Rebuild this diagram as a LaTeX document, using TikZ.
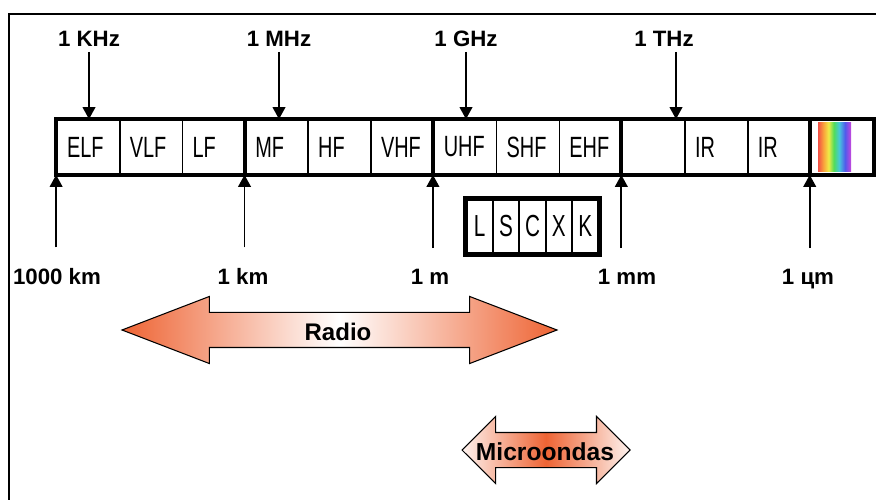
\documentclass[tikz,border=0pt]{standalone}
\usepackage{fontspec}
\setmainfont{Liberation Sans}
\newfontfamily\narrowsans[FakeStretch=0.68]{Liberation Sans}
\usetikzlibrary{arrows.meta,shapes.arrows}

\definecolor{rangeorange}{RGB}{238,100,52}
\definecolor{specred}{RGB}{242,80,70}
\definecolor{specorange}{RGB}{250,160,60}
\definecolor{specyellow}{RGB}{240,235,70}
\definecolor{specgreen}{RGB}{80,220,90}
\definecolor{speccyan}{RGB}{70,200,220}
\definecolor{specblue}{RGB}{80,90,235}
\definecolor{specviolet}{RGB}{200,70,220}
\pgfdeclarehorizontalshading{spectrum}{100bp}{color(0bp)=(specred); color(25bp)=(specred);
  color(33bp)=(specorange); color(41bp)=(specyellow); color(49bp)=(specgreen);
  color(57bp)=(speccyan); color(66bp)=(specblue); color(75bp)=(specviolet); color(100bp)=(specviolet)}

\begin{document}
\begin{tikzpicture}[>={Triangle[length=3.6mm, width=3.8mm]}, line width=1.5pt, x=0.3mm, y=-0.3mm]
  \tikzstyle{cell}=[draw, line width=1.5pt, minimum width=18.84mm, minimum height=16.2mm,
    text width=12.84mm, inner xsep=3mm, align=left,
    font=\narrowsans\fontsize{25}{27}\selectfont]
  \tikzstyle{subband}=[draw, line width=1.5pt, minimum width=7.92mm, minimum height=16.2mm,
    inner sep=0pt, font=\narrowsans\fontsize{26}{28}\selectfont]
  \tikzstyle{ticklabel}=[anchor=base, font=\bfseries\fontsize{19}{22}\selectfont]
  \tikzstyle{rangearrow}=[double arrow, draw, line width=0.9pt, inner xsep=0pt, inner ysep=5.1mm,
    double arrow head extend=4.8mm]

  \useasboundingbox (0,0) rectangle (876,500);
  \draw[line width=2.2pt] (876,14) -- (9,14) -- (9,500);

  % Band of the spectrum
  \node[cell] (c0)  at (88.4,147)  {ELF};
  \node[cell] (c1)  at (151.2,147) {VLF};
  \node[cell] (c2)  at (214.0,147) {LF};
  \node[cell] (c3)  at (276.8,147) {MF};
  \node[cell] (c4)  at (339.6,147) {HF};
  \node[cell] (c5)  at (402.4,147) {VHF};
  \node[cell] (c6)  at (465.2,147) {UHF};
  \node[cell] (c7)  at (528.0,147) {SHF};
  \node[cell] (c8)  at (590.8,147) {EHF};
  \node[cell] (c9)  at (653.6,147) {};
  \node[cell] (c10) at (716.4,147) {IR};
  \node[cell] (c11) at (779.2,147) {IR};
  \node[cell] (c12) at (842.0,147) {};
  \shade[shading=spectrum] (818,123) rectangle (851,172);

  \draw[line width=3.4pt] (c0.north west) rectangle (c12.south east);
  \draw[line width=3.4pt] (c3.north west) -- (c3.south west);
  \draw[line width=3.4pt] (c6.north west) -- (c6.south west);
  \draw[line width=3.4pt] (c9.north west) -- (c9.south west);
  \draw[line width=3.4pt] (c12.north west) -- (c12.south west);

  % Frequencies on top
  \node[ticklabel] (khz) at (89,47)  {1 KHz};
  \node[ticklabel] (mhz) at (279,47) {1 MHz};
  \node[ticklabel] (ghz) at (466,47) {1 GHz};
  \node[ticklabel] (thz) at (664,47) {1 THz};

  \draw[->] (khz) -- (khz |- c0.north);
  \draw[->] (mhz) -- (mhz |- c3.north);
  \draw[->] (ghz) -- (ghz |- c6.north);
  \draw[->] ([xshift=3.6mm]thz.south) -- ([xshift=3.6mm]thz.south |- c9.north);

  % Wavelengths below
  \node[ticklabel] (lkkm) at (57,285)  {1000 km};
  \node[ticklabel] (lkm)  at (243,285) {1 km};
  \node[ticklabel] (lm)   at (430,285) {1 m};
  \node[ticklabel] (lmm)  at (627,285) {1 mm};
  \node[ticklabel] (lum)  at (808,285) {1 цm};

  \draw[->, shorten <=5mm] (c0.south west |- lkkm.north) -- (c0.south west);
  \draw[->, shorten <=5mm] (c3.south west |- lkm.north) -- (c3.south west);
  \draw[->, shorten <=5mm] (c6.south west |- lm.north) -- (c6.south west);
  \draw[->, shorten <=5mm] (c9.south west |- lmm.north) -- (c9.south west);
  \draw[->, shorten <=5mm] (c12.south west |- lum.north) -- (c12.south west);

  % Microwave bands
  \node[subband] (bl) at (479.7,226.5) {L};
  \node[subband] (bs) at (506.1,226.5) {S};
  \node[subband] (bc) at (532.5,226.5) {C};
  \node[subband] (bx) at (558.9,226.5) {X};
  \node[subband] (bk) at (585.3,226.5) {K};
  \draw[line width=4pt] (bl.north west) rectangle (bk.south east);

  % Ranges
  \node[rangearrow, minimum height=130.5mm, double arrow tip angle=42,
    left color=rangeorange, right color=rangeorange, middle color=white] (radio) at (339.5,330) {};
  \node[font=\bfseries\fontsize{20.5}{24}\selectfont] (radiotxt) at (338,332) {Radio};

  \node[rangearrow, minimum height=50.4mm, double arrow tip angle=90,
    left color=rangeorange!8, right color=rangeorange!8, middle color=rangeorange] (micro) at (546,450) {};
  \node[font=\bfseries\fontsize{21}{24}\selectfont] (microtxt) at (545,452) {Microondas};
\end{tikzpicture}
\end{document}
